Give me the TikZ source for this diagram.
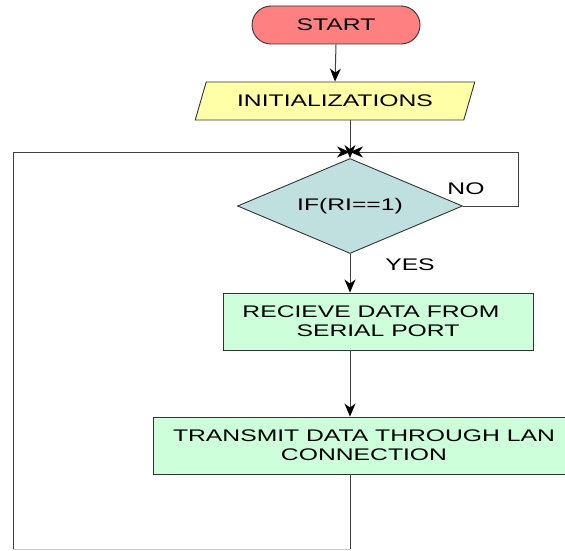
\documentclass[tikz,border=0pt]{standalone}
\usepackage{fontspec}
\setmainfont[FakeStretch=1.47]{Liberation Sans}
\usetikzlibrary{shapes.geometric,shapes.misc,arrows.meta}
\definecolor{startred}{RGB}{255,128,128}
\definecolor{inityellow}{RGB}{255,255,168}
\definecolor{diacyan}{RGB}{192,224,224}
\definecolor{procgreen}{RGB}{204,255,218}
\begin{document}
\begin{tikzpicture}[x=1pt,y=-1pt,
  every node/.style={font=\fontsize{16.8}{19}\selectfont, inner sep=0pt},
  base/.style={draw=black!80, line width=0.9pt},
  terminal/.style={base, rounded rectangle, fill=startred, minimum width=168pt, minimum height=38pt},
  io/.style={base, trapezium, trapezium left angle=55, trapezium right angle=125, trapezium stretches=true, fill=inityellow, minimum width=280pt, minimum height=38pt},
  decision/.style={base, diamond, shape aspect=2.37, fill=diacyan, minimum width=225pt, minimum height=95pt},
  process/.style={base, rectangle, fill=procgreen, align=center, minimum height=57pt},
  flow/.style={draw=black!75, line width=1pt},
  arr/.style={flow, -{Stealth[length=13pt,width=11pt,inset=4pt,black]}},
  lbl/.style={}
]
\clip (0,0) rectangle (565,551);
\fill[white] (0,0) rectangle (565,551);

\node[terminal] (start) at (336,25) {START};
\node[io] (init) at (335,101) {INITIALIZATIONS};
\node[decision] (dec) at (350,206) {IF(RI==1)};
\node[process, minimum width=310pt] (p1) at (378,321.5) {RECIEVE DATA FROM\hspace*{14pt}\\SERIAL PORT};
\node[process, minimum width=422pt] (p2) at (364,445.5) {TRANSMIT DATA THROUGH LAN\\CONNECTION};
\node[lbl] (yes) at (410,265) {YES};
\node[lbl] (no) at (466,189) {NO};

\coordinate (j) at (350,152);
\coordinate (rr) at (518,152);
\coordinate (bl) at (350,549);
\coordinate (blc) at (13,549);

\draw[arr] (start.south) -- (init.north);
\draw[flow] (init.south -| j) -- (j);
\draw[arr] (j) -- (dec.north);
\draw[arr] (dec.south) -- (dec.south |- p1.north);
\draw[arr] (p1.south -| dec.south) -- (dec.south |- p2.north);
\draw[flow] (p2.south -| dec.south) -- (bl);
\draw[draw=gray!40, line width=1pt] (bl) -- (blc);
\draw[arr] (blc) |- (j);
\draw[arr] (dec.east) -| (rr) -- (j);
\end{tikzpicture}
\end{document}
